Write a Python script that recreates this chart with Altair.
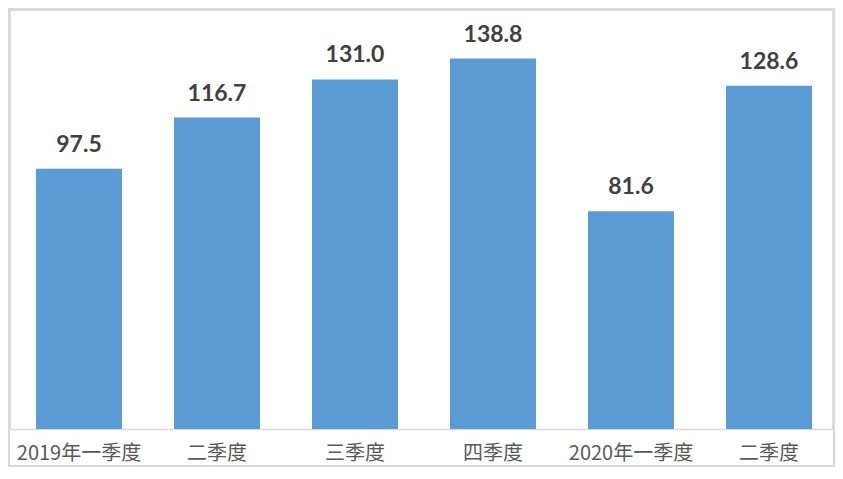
import altair as alt
import pandas as pd

categories = ["2019年一季度", "二季度", "三季度", "四季度", "2020年一季度", "二季度 "]
values = [97.5, 116.7, 131.0, 138.8, 81.6, 128.6]
labels = ["97.5", "116.7", "131.0", "138.8", "81.6", "128.6"]

df = pd.DataFrame({"cat": categories, "value": values, "label": labels})

x = alt.X("cat:N", sort=categories, title=None,
          scale=alt.Scale(paddingInner=0.377, paddingOuter=0.1667, align=0.565),
          axis=alt.Axis(labelAngle=0, ticks=False, domainColor="#d9d9d9", domainWidth=1.5,
                        labelFont="Noto Sans CJK SC", labelFontSize=20, labelColor="#595959",
                        labelPadding=14, labelExpr="trim(datum.label)"))
y = alt.Y("value:Q", title=None, scale=alt.Scale(domain=[0, 157], nice=False), axis=None)

bars = alt.Chart(df).mark_bar(color="#5B9BD5").encode(x=x, y=y)
text = alt.Chart(df).mark_text(dy=-12, baseline="bottom", font="Lato", fontWeight="bold",
                               fontSize=23, color="#404040").encode(x=x, y=y, text="label:N")
frame = alt.Chart(df).mark_rect(fill=None, stroke="#d9d9d9", strokeWidth=2).encode(
    x=alt.value(-1), x2=alt.value(824), y=alt.value(-1), y2=alt.value(456))

chart = alt.layer(frame, bars, text).properties(
    width=822, height=419,
    autosize=alt.AutoSizeParams(type="none"),
    padding={"left": 2, "top": 2, "right": 3, "bottom": 38},
).configure_view(stroke=None).configure(background="white")

chart.save("out.html", embed_options={"renderer": "svg", "actions": False})
